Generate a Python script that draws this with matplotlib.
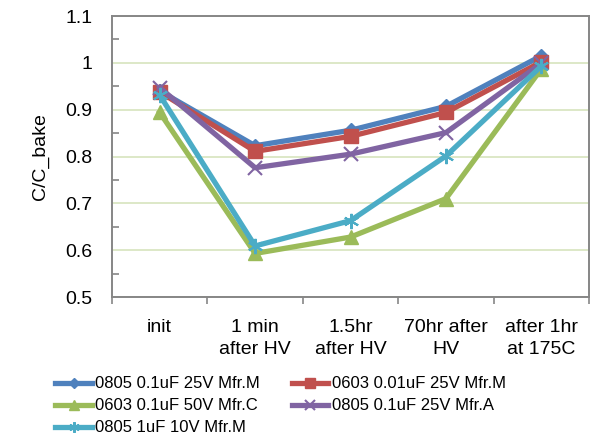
import matplotlib
matplotlib.use("Agg")
import matplotlib.pyplot as plt
from matplotlib.ticker import MultipleLocator

plt.rcParams['font.family'] = ['Liberation Sans', 'DejaVu Sans']

categories = ["init", "1 min\nafter HV", "1.5hr\nafter HV", "70hr after\nHV", "after 1hr\nat 175C"]

s_0805_01uF_M = [0.940, 0.823, 0.856, 0.907, 1.015]
s_0603_001uF_M = [0.938, 0.811, 0.843, 0.894, 1.002]
s_0603_01uF_C = [0.894, 0.593, 0.628, 0.710, 0.987]
s_0805_01uF_A = [0.947, 0.776, 0.805, 0.851, 0.999]
s_0805_1uF_M = [0.931, 0.609, 0.663, 0.801, 0.993]

names = ["0805 0.1uF 25V Mfr.M", "0603 0.01uF 25V Mfr.M", "0603 0.1uF 50V Mfr.C",
         "0805 0.1uF 25V Mfr.A", "0805 1uF 10V Mfr.M"]

fig = plt.figure(figsize=(5.94, 4.36), dpi=100)
ax = fig.add_axes([0.1886, 0.3188, 0.8030, 0.6445])

x = range(len(categories))
lines = []
# (data, colour, marker, size)
styles = [
    (s_0805_01uF_M, '#4F81BD', 'D', 7),
    (s_0603_001uF_M, '#C0504D', 's', 10),
    (s_0603_01uF_C, '#9BBB59', '^', 10),
    (s_0805_01uF_A, '#8064A2', 'x', 10),
    (s_0805_1uF_M, '#4BACC6', (6, 2, 0), 11),
]
for (vals, col, mk, ms), name in zip(styles, names):
    l, = ax.plot(x, vals, color=col, lw=3.8, marker=mk, ms=ms,
                 mew=1.5 if mk in ('x',) or isinstance(mk, tuple) else 1,
                 mec=col, mfc=col, label=name, solid_joinstyle='round')
    lines.append(l)

ax.set_xlim(-0.5, len(categories) - 0.5)
ax.set_ylim(0.5, 1.1)
ax.yaxis.set_minor_locator(MultipleLocator(0.05))
ax.set_yticks([0.5, 0.6, 0.7, 0.8, 0.9, 1.0, 1.1])
ax.set_yticklabels(["0.5", "0.6", "0.7", "0.8", "0.9", "1", "1.1"])
ax.grid(axis='y', color='#D7E4BD', lw=1.2)
ax.set_axisbelow(True)

ax.set_xticks(list(x))
ax.set_xticklabels(categories, linespacing=1.4)
ax.set_xticks([i - 0.5 for i in range(len(categories) + 1)], minor=True)
ax.tick_params(axis='x', which='major', length=0, pad=16, labelsize=14)
ax.tick_params(axis='x', which='minor', length=5, direction='out', color='#868686', width=1.2)
ax.tick_params(axis='y', which='major', length=0, pad=14, labelsize=14)
ax.tick_params(axis='y', which='minor', length=5, direction='in', color='#868686', width=1.2)

for sp in ax.spines.values():
    sp.set_color('#868686')
    sp.set_linewidth(1.4)

ax.set_ylabel("C/C_bake", fontsize=14, labelpad=12)

order = [0, 2, 4, 1, 3]
fig.legend([lines[i] for i in order], [names[i] for i in order],
           loc='upper left', bbox_to_anchor=(0.082, 0.152), ncol=2, frameon=False,
           fontsize=12, handlelength=2.2, handletextpad=0.2, columnspacing=1.9,
           labelspacing=0.42, borderaxespad=0, markerscale=0.7)

fig.savefig("out.png", dpi=100)
